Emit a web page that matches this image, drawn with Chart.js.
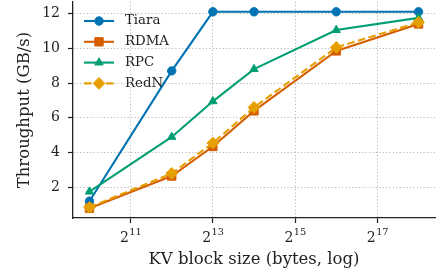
<!DOCTYPE html>
<html>
<head>
<meta charset="utf-8">
<script src="https://cdn.jsdelivr.net/npm/chart.js@4.4.1/dist/chart.umd.min.js"></script>
<style>
  html, body { margin: 0; padding: 0; background: #fff; }
</style>
</head>
<body>
<canvas id="tputChart" width="442" height="273"></canvas>
<script>
// KV block sizes (bytes) and throughput in GB/s
const blockSizes = [1024, 4096, 8192, 16384, 65536, 262144];
const tiara = [1.2, 8.7, 12.1, 12.1, 12.1, 12.1];
const rdma = [0.8, 2.65, 4.35, 6.4, 9.85, 11.4];
const rpc = [1.75, 4.9, 6.95, 8.8, 11.05, 11.75];
const redn = [0.85, 2.8, 4.55, 6.6, 10.05, 11.5];

const xTicks = [2048, 8192, 32768, 131072];
const yTicks = [2, 4, 6, 8, 10, 12];

const serif = '"DejaVu Serif", serif';
const ink = '#222';

function points(values) {
  return blockSizes.map((x, i) => ({ x: x, y: values[i] }));
}

function series(label, values, color, style, radius, order, dash) {
  return {
    label: label,
    data: points(values),
    borderColor: color,
    backgroundColor: color,
    borderWidth: 2.1,
    borderDash: dash || [],
    pointStyle: style,
    pointRadius: radius,
    pointHoverRadius: radius,
    pointBorderWidth: 1,
    tension: 0,
    clip: false,
    order: order
  };
}

// x tick labels drawn as 2 with a raised exponent, like mathtext
const powerLabels = {
  id: 'powerLabels',
  afterDraw(chart) {
    const ctx = chart.ctx;
    const s = chart.scales.x;
    ctx.save();
    ctx.fillStyle = ink;
    ctx.textBaseline = 'alphabetic';
    xTicks.forEach(v => {
      const px = s.getPixelForValue(v);
      const exp = String(Math.round(Math.log2(v)));
      ctx.font = '14px ' + serif;
      const bw = ctx.measureText('2').width;
      ctx.font = '9.8px ' + serif;
      const ew = ctx.measureText(exp).width;
      const left = px - (bw + ew) / 2;
      ctx.font = '14px ' + serif;
      ctx.fillText('2', left, s.top + 23.7);
      ctx.font = '9.8px ' + serif;
      ctx.fillText(exp, left + bw + 0.5, s.top + 16.5);
    });
    ctx.restore();
  }
};

// legend with a line segment and the marker in its middle
const lineLegend = {
  id: 'lineLegend',
  afterDraw(chart) {
    const ctx = chart.ctx;
    ctx.save();
    chart.data.datasets.forEach((ds, i) => {
      const y = 21 + i * 20.8;
      ctx.strokeStyle = ds.borderColor;
      ctx.fillStyle = ds.backgroundColor;
      ctx.lineWidth = ds.borderWidth;
      ctx.setLineDash(ds.borderDash);
      ctx.beginPath();
      ctx.moveTo(84, y);
      ctx.lineTo(114, y);
      ctx.stroke();
      ctx.setLineDash([]);
      ctx.lineWidth = ds.pointBorderWidth;
      Chart.helpers.drawPoint(ctx, {
        pointStyle: ds.pointStyle,
        radius: ds.pointRadius,
        rotation: 0,
        borderWidth: ds.pointBorderWidth
      }, 99, y);
      ctx.fillStyle = ink;
      ctx.font = '13.3px ' + serif;
      ctx.textBaseline = 'middle';
      ctx.textAlign = 'left';
      ctx.fillText(ds.label, 125, y);
    });
    ctx.restore();
  }
};

const gridStyle = {
  color: '#b0b0b0',
  lineWidth: 0.9,
  tickLength: 5,
  tickColor: ink,
  tickWidth: 1.2,
  tickBorderDash: []
};
const borderStyle = { display: true, color: ink, width: 1.3, dash: [1.2, 2.2] };

new Chart(document.getElementById('tputChart'), {
  type: 'line',
  data: {
    datasets: [
      series('Tiara', tiara, '#0173B2', 'circle', 4.2, 3),
      series('RDMA', rdma, '#D55E00', 'rect', 5.9, 2),
      series('RPC', rpc, '#029E73', 'triangle', 4.8, 1),
      series('RedN', redn, '#E69F00', 'rectRot', 5.9, 0, [7.5, 3.5])
    ]
  },
  options: {
    responsive: false,
    animation: false,
    devicePixelRatio: 1,
    layout: { autoPadding: false, padding: { left: 0, right: 7, top: 2, bottom: 0 } },
    plugins: {
      legend: { display: false },
      tooltip: { enabled: false }
    },
    scales: {
      x: {
        type: 'logarithmic',
        min: Math.pow(2, 9.6),
        max: Math.pow(2, 18.4),
        afterBuildTicks: s => { s.ticks = xTicks.map(v => ({ value: v })); },
        afterFit: s => {
          s.height = 55;
          s.paddingLeft = 0;
          s.paddingRight = 0;
        },
        ticks: { display: false },
        grid: gridStyle,
        border: borderStyle,
        title: {
          display: true,
          text: 'KV block size (bytes, log)',
          color: ink,
          font: { family: serif, size: 16.5, lineHeight: 1.2 },
          padding: { top: 0, bottom: 3.8 }
        }
      },
      y: {
        type: 'linear',
        min: 0.235,
        max: 12.665,
        afterBuildTicks: s => { s.ticks = yTicks.map(v => ({ value: v })); },
        afterFit: s => {
          s.width = 73;
          s.paddingTop = 0;
          s.paddingBottom = 0;
        },
        ticks: {
          color: ink,
          padding: 8,
          font: { family: serif, size: 14 }
        },
        grid: gridStyle,
        border: borderStyle,
        title: {
          display: true,
          text: 'Throughput (GB/s)',
          color: ink,
          font: { family: serif, size: 16.5, lineHeight: 1.2 },
          padding: { top: 14.6, bottom: 0 }
        }
      }
    }
  },
  plugins: [powerLabels, lineLegend]
});
</script>
</body>
</html>
